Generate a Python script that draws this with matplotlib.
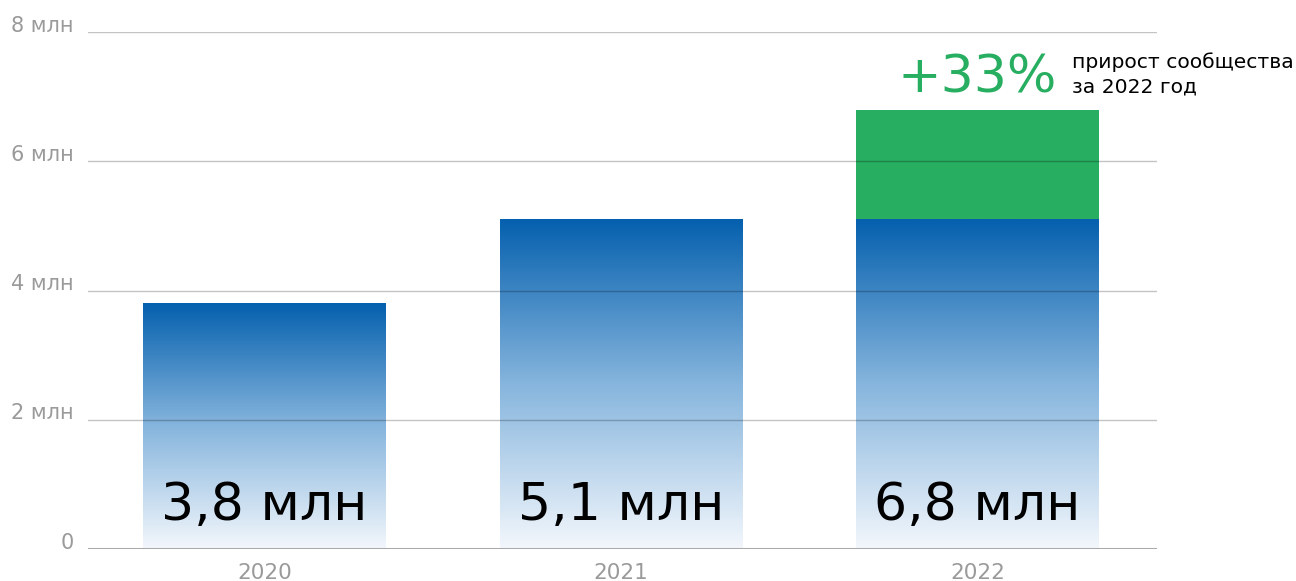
import numpy as np
import matplotlib.pyplot as plt
from matplotlib.colors import LinearSegmentedColormap

plt.rcParams['font.family'] = ['DejaVu Sans']

# Datos
anios = ['2020', '2021', '2022']
valores = [3.8, 5.1, 6.8]
base_2022 = 5.1
etiquetas = ['3,8 млн', '5,1 млн', '6,8 млн']
ticks_y = [0, 2, 4, 6, 8]
ticks_y_txt = ['0', '2 млн', '4 млн', '6 млн', '8 млн']

azul = '#0560ae'
verde = '#27ae61'
gris = '#9a9a9a'

fig = plt.figure(figsize=(12.96, 5.81), dpi=100)
ax = fig.add_axes([88 / 1296, 32 / 581, (1157 - 88) / 1296, 517 / 581])
ax.set_xlim(-0.495, 2.503)
ax.set_ylim(0, 8)

cmap = LinearSegmentedColormap.from_list('deg', ['#f3f7fc', '#86b5dd', azul])
grad = np.linspace(0, 1, 256).reshape(-1, 1)

x = np.arange(len(anios))
ancho = 0.68
alturas_azul = [valores[0], valores[1], base_2022]
for xi, h in zip(x, alturas_azul):
    barra = ax.bar(xi, h, width=ancho, color='none', zorder=1)[0]
    im = ax.imshow(grad, cmap=cmap, aspect='auto', origin='lower',
                   extent=(xi - ancho / 2, xi + ancho / 2, 0, h), zorder=1)
    im.set_clip_path(barra)

# Incremento 2022
ax.bar(x[2], valores[2] - base_2022, bottom=base_2022, width=ancho,
       color=verde, zorder=1)

# Cuadrícula semitransparente encima de las barras
for t in ticks_y[1:]:
    ax.axhline(t, color='black', alpha=0.23, lw=1, zorder=2)
ax.axhline(0, color='#aaaaaa', lw=2.2, zorder=2)

for t, s in zip(ticks_y, ticks_y_txt):
    ax.text(-0.535, t + 0.1, s, ha='right', va='center', fontsize=15,
            color=gris)

for xi, a in zip(x, anios):
    ax.text(xi, -0.37, a, ha='center', va='center', fontsize=15.5, color=gris)

for xi, e in zip(x, etiquetas):
    ax.text(xi, 0.45, e, ha='center', va='baseline', fontsize=37.5,
            color='black', zorder=3)

ax.text(x[2], 7.06, '+33%', ha='center', va='baseline', fontsize=37.5,
        color=verde)
ax.text(2.265, 7.45, 'прирост сообщества', ha='left', va='baseline',
        fontsize=14.6, color='black')
ax.text(2.265, 7.06, 'за 2022 год', ha='left', va='baseline',
        fontsize=14.6, color='black')

ax.set_xticks([])
ax.set_yticks([])
for s in ax.spines.values():
    s.set_visible(False)

fig.savefig('out.png', dpi=100)
